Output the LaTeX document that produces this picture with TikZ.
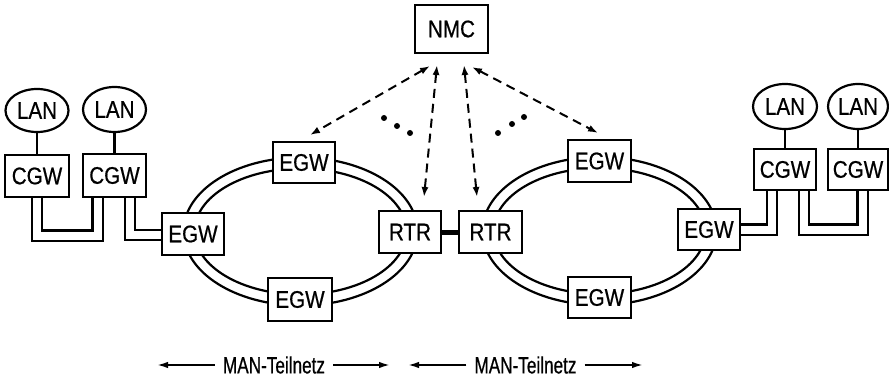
\documentclass[tikz,border=0pt]{standalone}
\usepackage{fontspec}
\setmainfont{Liberation Sans}
\newfontfamily\boxfont{Liberation Sans}[FakeStretch=0.86,FakeBold=0.6]
\newfontfamily\labfont{Liberation Sans}[FakeStretch=0.73,FakeBold=0.6]
\usetikzlibrary{shapes.geometric,arrows.meta,backgrounds}
\begin{document}
\begin{tikzpicture}[x=1pt,y=-1pt,
  box/.style={draw,line width=2.2pt,fill=white,inner sep=0pt,minimum width=63pt,minimum height=41pt,font={\boxfont\fontsize{24}{24}\selectfont}},
  lan/.style={ellipse,draw,line width=2.2pt,fill=white,inner sep=0pt,minimum width=63pt,minimum height=43pt,font={\boxfont\fontsize{24}{24}\selectfont}},
  ring/.style={line width=2.2pt},
  dbl/.style={double,double distance=8pt,line width=2.2pt,line join=miter},
  ctl/.style={line width=2pt,dash pattern=on 9pt off 6pt,{Latex[length=10pt,width=7pt]}-{Latex[length=10pt,width=7pt]}},
  span/.style={line width=1.9pt,-{Latex[length=11pt,width=6.5pt]}},
  lab/.style={inner xsep=8pt,inner ysep=0pt,font={\labfont\fontsize{23.5}{23.5}\selectfont}}
]
\useasboundingbox (0,0) rectangle (889,377);

% nodes
\node[box,minimum width=73pt,minimum height=48pt] (NMC) at (451.5,29) {NMC};

\node[lan] (LAN1) at (37,110.5) {LAN};
\node[lan,minimum height=45pt] (LAN2) at (114.5,109.5) {LAN};
\node[box,minimum width=64pt,minimum height=42pt] (CGW1) at (37,176) {CGW};
\node[box,minimum width=63pt,minimum height=43pt] (CGW2) at (114.5,175.5) {CGW};

\node[box,minimum width=62pt,minimum height=42pt] (EGWL) at (193,234) {EGW};
\node[box,minimum width=62pt] (EGWT) at (304,162.5) {EGW};
\node[box,minimum width=64pt,minimum height=43pt] (EGWB) at (300,299.5) {EGW};
\node[box,minimum width=62pt,minimum height=42pt] (RTR1) at (410,232) {RTR};
\node[box,minimum width=63pt,minimum height=42pt] (RTR2) at (490.5,232) {RTR};
\node[box,minimum height=42pt] (EGWT2) at (599.5,161) {EGW};
\node[box,minimum height=41pt] (EGWB2) at (599.5,297.5) {EGW};
\node[box,minimum width=62pt,minimum height=41pt] (EGWR) at (709,229.5) {EGW};

\node[lan,minimum width=64pt,minimum height=45pt] (LAN3) at (785,106.5) {LAN};
\node[lan,minimum width=60pt,minimum height=45pt] (LAN4) at (858,106.5) {LAN};
\node[box,minimum width=62pt,minimum height=41pt] (CGW3) at (785,169.5) {CGW};
\node[box,minimum width=60pt,minimum height=41pt] (CGW4) at (858,169.5) {CGW};

% bend points
\coordinate (b1) at (37,235.5);
\coordinate (b2) at (97.5,235.5);
\coordinate (b3) at (130,235);
\coordinate (b4) at (772,229.5);
\coordinate (b5) at (804,229.5);
\coordinate (b6) at (862.5,229.5);

\begin{scope}[on background layer]
  % rings
  \draw[ring] (300.5,231.5) ellipse [x radius=117pt, y radius=74pt];
  \draw[ring] (300.5,231.5) ellipse [x radius=106pt, y radius=63pt];
  \draw[ring] (599.5,231) ellipse [x radius=117pt, y radius=74pt];
  \draw[ring] (599.5,231) ellipse [x radius=106pt, y radius=63pt];
  % double connectors
  \draw[dbl] (CGW1.south) -- (b1) -- (b2) -- (b2 |- CGW2.south);
  \draw[dbl] (b3 |- CGW2.south) -- (b3) -- (b3 -| EGWL.west);
  \draw[dbl] (b4 -| EGWR.east) -- (b4) -- (b4 |- CGW3.south);
  \draw[dbl] (b5 |- CGW3.south) -- (b5) -- (b6) -- (b6 |- CGW4.south);
\end{scope}

% simple lines
\draw[line width=2.2pt] (LAN1) -- (CGW1);
\draw[line width=2.2pt] (LAN2) -- (CGW2);
\draw[line width=2.2pt] (LAN3) -- (CGW3);
\draw[line width=2.2pt] (LAN4) -- (CGW4);
\draw[line width=5pt] (RTR1) -- (RTR2);

% NMC control arrows
\coordinate (n1) at (430,66);   \coordinate (e1) at (310,135);
\coordinate (n2) at (437,65);   \coordinate (e2) at (424,197);
\coordinate (n3) at (464,65);   \coordinate (e3) at (477,197);
\coordinate (n4) at (472,67);   \coordinate (e4) at (598,133);
\draw[ctl] (n1) -- (e1);
\draw[ctl] (n2) -- (e2);
\draw[ctl] (n3) -- (e3);
\draw[ctl] (n4) -- (e4);

% dots
\foreach \p in {(384,118),(397,126),(410,133),(498,133),(512,124),(524,117)}
  \fill \p circle (3pt);

% span labels
\node[lab] (T1) at (274,365) {MAN-Teilnetz};
\node[lab] (T2) at (525.5,365) {MAN-Teilnetz};
\coordinate (s1) at (157,365);
\coordinate (s2) at (390,365);
\coordinate (s3) at (408,365);
\coordinate (s4) at (643,365);
\draw[span] (T1) -- (s1);
\draw[span] (T1) -- (s2);
\draw[span] (T2) -- (s3);
\draw[span] (T2) -- (s4);
\end{tikzpicture}
\end{document}
